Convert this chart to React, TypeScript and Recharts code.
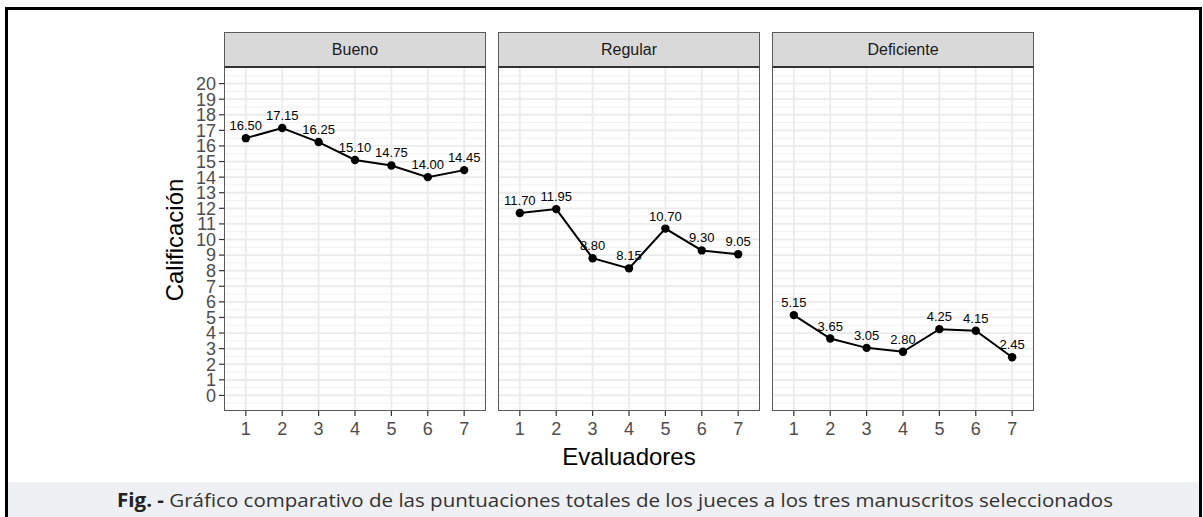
import React from 'react';
import { LineChart, Line, XAxis, YAxis, ReferenceLine, LabelList } from 'recharts';

const EVALUADORES = [1, 2, 3, 4, 5, 6, 7];
const BUENO = [16.5, 17.15, 16.25, 15.1, 14.75, 14.0, 14.45];
const REGULAR = [11.7, 11.95, 8.8, 8.15, 10.7, 9.3, 9.05];
const DEFICIENTE = [5.15, 3.65, 3.05, 2.8, 4.25, 4.15, 2.45];
const PANEL_NAMES = ['Bueno', 'Regular', 'Deficiente'];
const Y_TICKS = [0, 1, 2, 3, 4, 5, 6, 7, 8, 9, 10, 11, 12, 13, 14, 15, 16, 17, 18, 19, 20];
const Y_MINOR = [-0.5, ...Y_TICKS.map((t) => t + 0.5)];

const SERIES = [BUENO, REGULAR, DEFICIENTE];

const FONT = '"Liberation Sans", Arial, Helvetica, sans-serif';
const PLOT_TOP = 68;
const PLOT_H = 343;
const PANEL_W = 262;
const PANEL_LEFTS = [224, 498, 772];
const STRIP_TOP = 32;
const Y_AXIS_W = 84;
const X_AXIS_H = 40;

function Panel({ index }: { index: number }) {
  const values = SERIES[index];
  const data = EVALUADORES.map((e, i) => ({ x: e, y: values[i] }));
  const first = index === 0;
  const left = PANEL_LEFTS[index] - (first ? Y_AXIS_W : 0);
  const width = PANEL_W + (first ? Y_AXIS_W : 0);

  return (
    <>
      <div
        style={{
          position: 'absolute',
          left: PANEL_LEFTS[index],
          top: STRIP_TOP,
          width: PANEL_W,
          height: PLOT_TOP - STRIP_TOP,
          boxSizing: 'border-box',
          background: '#d9d9d9',
          border: '1px solid #5a5a5a',
          borderBottom: '2px solid #333',
          display: 'flex',
          alignItems: 'center',
          justifyContent: 'center',
          fontFamily: FONT,
          fontSize: 16,
          color: '#1a1a1a',
        }}
      >
        {PANEL_NAMES[index]}
      </div>
      <div style={{ position: 'absolute', left, top: PLOT_TOP }}>
        <LineChart width={width} height={PLOT_H + X_AXIS_H} data={data} margin={{ top: 0, right: 0, bottom: 0, left: 0 }}>
          <XAxis
            type="number"
            dataKey="x"
            domain={[0.4, 7.6]}
            ticks={EVALUADORES}
            allowDataOverflow
            height={X_AXIS_H}
            axisLine={false}
            tickSize={5}
            tickMargin={6}
            tickLine={{ stroke: '#333', strokeWidth: 1.2 }}
            tick={{ fill: '#4d4d4d', fontSize: 18, fontFamily: FONT }}
          />
          <YAxis
            type="number"
            domain={[-1, 21]}
            ticks={Y_TICKS}
            interval={0}
            allowDataOverflow
            hide={!first}
            width={Y_AXIS_W}
            axisLine={false}
            tickSize={5}
            tickMargin={3}
            tickLine={{ stroke: '#333', strokeWidth: 1.2 }}
            tick={{ fill: '#4d4d4d', fontSize: 18, fontFamily: FONT }}
          />
          {Y_MINOR.map((v) => (
            <ReferenceLine key={'m' + v} y={v} stroke="#eeeeee" strokeWidth={0.9} />
          ))}
          {Y_TICKS.map((v) => (
            <ReferenceLine key={'y' + v} y={v} stroke="#ebebeb" strokeWidth={1.8} />
          ))}
          {EVALUADORES.map((v) => (
            <ReferenceLine key={'x' + v} x={v} stroke="#ebebeb" strokeWidth={1.8} />
          ))}
          <Line
            dataKey="y"
            stroke="#000"
            strokeWidth={2}
            dot={{ r: 4.2, fill: '#000', stroke: 'none' }}
            activeDot={false}
            isAnimationActive={false}
          >
            <LabelList
              dataKey="y"
              position="top"
              offset={8}
              formatter={(v: number) => v.toFixed(2)}
              style={{ fill: '#000', fontSize: 13, fontFamily: FONT }}
            />
          </Line>
        </LineChart>
      </div>
      <div
        style={{
          position: 'absolute',
          left: PANEL_LEFTS[index],
          top: PLOT_TOP,
          width: PANEL_W,
          height: PLOT_H,
          boxSizing: 'border-box',
          border: '1px solid #5a5a5a',
          borderTop: 'none',
          pointerEvents: 'none',
        }}
      />
    </>
  );
}

export default function App() {
  return (
    <div style={{ position: 'absolute', left: 0, top: 0, width: 1203, height: 517, background: '#fff', overflow: 'hidden' }}>
      <div
        style={{
          position: 'absolute',
          left: 8,
          top: 482,
          width: 1191,
          height: 40,
          background: '#eef0f4',
        }}
      />
      <div
        style={{
          position: 'absolute',
          left: 5,
          top: 7,
          width: 1197,
          height: 520,
          boxSizing: 'border-box',
          borderTop: '3px solid #000',
          borderLeft: '3px solid #000',
          borderRight: '3px solid #000',
        }}
      />
      {PANEL_NAMES.map((n, i) => (
        <Panel key={n} index={i} />
      ))}
      <svg width={1203} height={517} style={{ position: 'absolute', left: 0, top: 0, pointerEvents: 'none' }}>
        <text
          x={0}
          y={0}
          transform="translate(183,240) rotate(-90)"
          textAnchor="middle"
          fontFamily={FONT}
          fontSize={24}
          fill="#000"
        >
          Calificación
        </text>
        <text x={629} y={465} textAnchor="middle" fontFamily={FONT} fontSize={24} fill="#000">
          Evaluadores
        </text>
        <text
          x={117}
          y={507}
          textLength={996}
          lengthAdjust="spacingAndGlyphs"
          fontFamily='"Open Sans", "Noto Sans", sans-serif'
          fontSize={19}
          fill="#333"
        >
          <tspan fontWeight="bold" fill="#222">Fig. -</tspan>
          <tspan> Gráfico comparativo de las puntuaciones totales de los jueces a los tres manuscritos seleccionados</tspan>
        </text>
      </svg>
    </div>
  );
}
